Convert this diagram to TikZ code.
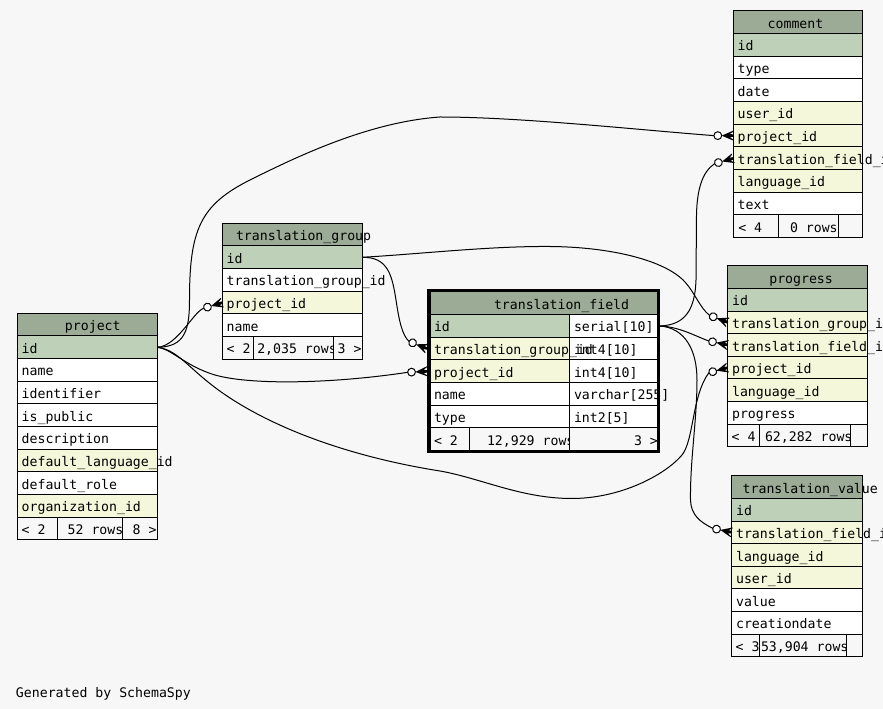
\documentclass[tikz,border=0pt]{standalone}
\usepackage{fontspec}
\setmonofont{DejaVu Sans Mono}
\definecolor{hdr}{HTML}{9BAB96}
\definecolor{pk}{HTML}{BED1B8}
\definecolor{fk}{HTML}{F4F7DA}
\definecolor{bg}{HTML}{F7F7F7}
\tikzset{
  cellbox/.style={draw=black, line width=0.75pt, anchor=north west, inner sep=0pt, outer sep=0pt, rectangle},
  txt/.style={font=\ttfamily\fontsize{9.9}{11}\selectfont, anchor=west, inner sep=0pt, outer sep=0pt, text height=10pt, text depth=1pt},
  conn/.style={draw=black, line width=0.75pt},
  crowodot/.pic={
    \fill[black] (-11.6,0) -- (0,-5) -- (0,-4) -- (-3.5,-1.6) -- (0,-1.2) -- (0,1.2) -- (-3.5,1.6) -- (0,4) -- (0,5) -- cycle;
    \draw[black, line width=0.75pt, fill=white] (-15.5,0) circle[radius=3.9];
    \coordinate (-in) at (-19.4,0);
  }
}
\newcommand\rowh{22.66}
\newcommand\tbl[3]{\def\Tx{#1}\def\Tw{#2}\def\Ty{#3}}
\newcommand\hrow[3]{%
  \node[cellbox, fill=hdr, minimum width=\Tw*0.75pt, minimum height=\rowh*0.75pt] (#1) at (\Tx,\Ty) {};
  \node[txt] (#1-t) at ([xshift=#3*0.75pt]#1.west) {#2};
  \pgfmathsetmacro\Ty{\Ty+\rowh}}
\newcommand\drow[3]{%
  \node[cellbox, fill=#2, minimum width=\Tw*0.75pt, minimum height=\rowh*0.75pt] (#1) at (\Tx,\Ty) {};
  \node[txt] (#1-t) at ([xshift=3.3pt]#1.west) {#3};
  \pgfmathsetmacro\Ty{\Ty+\rowh}}
\newcommand\tfrow[4]{%
  \node[cellbox, fill=#2, minimum width=139*0.75pt, minimum height=\rowh*0.75pt] (#1) at (430,\Ty) {};
  \node[cellbox, fill=white, minimum width=88*0.75pt, minimum height=\rowh*0.75pt] (#1-type) at (569,\Ty) {};
  \node[txt] (#1-t) at ([xshift=3pt]#1.west) {#3};
  \node[txt] (#1-tt) at ([xshift=3.75pt]#1-type.west) {#4};
  \pgfmathsetmacro\Ty{\Ty+\rowh}}
\newcommand\fcell[5]{%
  \node[cellbox, fill=bg, minimum width=#3*0.75pt, minimum height=\rowh*0.75pt] (#1) at (#2,\Ty) {};
  \node[txt] (#1-t) at ([xshift=#4*0.75pt]#1.west) {#5};}
\begin{document}
\begin{tikzpicture}[x=0.75pt,y=-0.75pt]
\useasboundingbox (0,0) rectangle (883,709);
\fill[bg] (0,0) rectangle (883,709);

% project
\tbl{17.3}{140}{313.3}
\hrow{p-h}{project}{47.7}
\drow{p-id}{pk}{id}
\drow{p-name}{white}{name}
\drow{p-ident}{white}{identifier}
\drow{p-pub}{white}{is\_public}
\drow{p-desc}{white}{description}
\drow{p-dlid}{fk}{default\_language\_id}
\drow{p-role}{white}{default\_role}
\drow{p-org}{fk}{organization\_id}
\fcell{p-f1}{17.3}{40}{4.4}{< 2}
\fcell{p-f2}{57.3}{65.4}{10.4}{52 rows}
\fcell{p-f3}{122.7}{34.6}{10}{8 >}

% translation_group
\tbl{222.3}{140}{223.3}
\hrow{tg-h}{translation\_group}{13.7}
\drow{tg-id}{pk}{id}
\drow{tg-tgid}{white}{translation\_group\_id}
\drow{tg-pid}{fk}{project\_id}
\drow{tg-name}{white}{name}
\fcell{tg-f1}{222.3}{31}{4.4}{< 2}
\fcell{tg-f2}{253.3}{80.4}{4}{2,035 rows}
\fcell{tg-f3}{333.7}{28.6}{4}{3 >}

% translation_field
\tbl{430}{227}{292}
\hrow{tf-h}{translation\_field}{64}
\tfrow{tf-id}{pk}{id}{serial[10]}
\tfrow{tf-tgid}{fk}{translation\_group\_id}{int4[10]}
\tfrow{tf-pid}{fk}{project\_id}{int4[10]}
\tfrow{tf-name}{white}{name}{varchar[255]}
\tfrow{tf-type}{white}{type}{int2[5]}
\fcell{tf-f1}{430}{39.3}{4}{< 2}
\fcell{tf-f2}{469.3}{99.7}{17.7}{12,929 rows}
\fcell{tf-f3}{569}{88}{65}{3 >}
\draw[line width=2.25pt] (428.5,290.5) rectangle (658.5,451.5);

% comment
\tbl{733.3}{129.4}{11}
\hrow{c-h}{comment}{34.4}
\drow{c-id}{pk}{id}
\drow{c-type}{white}{type}
\drow{c-date}{white}{date}
\drow{c-uid}{fk}{user\_id}
\drow{c-pid}{fk}{project\_id}
\drow{c-tfid}{fk}{translation\_field\_id}
\drow{c-lid}{fk}{language\_id}
\drow{c-text}{white}{text}
\fcell{c-f1}{733.3}{45.4}{5}{< 4}
\fcell{c-f2}{778.7}{59.3}{11.3}{0 rows}
\fcell{c-f3}{838}{24.7}{0}{}

% progress
\tbl{727.7}{139.6}{265.7}
\hrow{pr-h}{progress}{41.6}
\drow{pr-id}{pk}{id}
\drow{pr-tgid}{fk}{translation\_group\_id}
\drow{pr-tfid}{fk}{translation\_field\_id}
\drow{pr-pid}{fk}{project\_id}
\drow{pr-lid}{fk}{language\_id}
\drow{pr-prog}{white}{progress}
\fcell{pr-f1}{727.7}{31.6}{4}{< 4}
\fcell{pr-f2}{759.3}{90.7}{5.7}{62,282 rows}
\fcell{pr-f3}{850}{17.3}{0}{}

% translation_value
\tbl{731.7}{130.6}{475.7}
\hrow{tv-h}{translation\_value}{11}
\drow{tv-id}{pk}{id}
\drow{tv-tfid}{fk}{translation\_field\_id}
\drow{tv-lid}{fk}{language\_id}
\drow{tv-uid}{fk}{user\_id}
\drow{tv-val}{white}{value}
\drow{tv-cdate}{white}{creationdate}
\fcell{tv-f1}{731.7}{27.6}{4}{< 3}
\fcell{tv-f2}{759.3}{87.4}{1.7}{53,904 rows}
\fcell{tv-f3}{846.7}{15.6}{0}{}

% markers
\pic[rotate=0] (m1) at (c-pid.west) {crowodot};
\pic[rotate=16] (m7) at (c-tfid.west) {crowodot};
\pic[rotate=17] (m2) at (tg-pid.west) {crowodot};
\pic[rotate=-22] (m5) at ([xshift=-2.25pt]tf-tgid.west) {crowodot};
\pic[rotate=3] (m3) at ([xshift=-2.25pt]tf-pid.west) {crowodot};
\pic[rotate=-21] (m6) at (pr-tgid.west) {crowodot};
\pic[rotate=-12] (m8) at (pr-tfid.west) {crowodot};
\pic[rotate=15] (m4) at (pr-pid.west) {crowodot};
\pic[rotate=-12] (m9) at (tv-tfid.west) {crowodot};

% connectors
\draw[conn] (p-id.east) .. controls (185,347) and (189.5,330) .. (189.5,300)
  .. controls (189.5,230) and (200,205) .. (250,180)
  .. controls (300,155) and (370,122) .. (440,117)
  .. controls (520,117) and (640,130) .. (m1-in);
\draw[conn] (p-id.east) .. controls +(20,-1) and +(-10,3) .. (m2-in);
\draw[conn] (p-id.east) .. controls (172,349) and (185,366) .. (215,375)
  .. controls (250,385) and (330,384) .. (m3-in);
\draw[conn] (p-id.east) .. controls (180,350) and (190,372) .. (230,398)
  .. controls (290,437) and (370,460) .. (440,471)
  .. controls (480,478) and (520,498) .. (570,498.5)
  .. controls (620,499) and (665,475) .. (682,455)
  .. controls (694,440) and (692,395) .. (m4-in);
\draw[conn] (tg-id.east) .. controls (388,257) and (392,275) .. (396,300)
  .. controls (399,320) and (402,335) .. (m5-in);
\draw[conn] (tg-id.east) .. controls (420,254) and (490,246) .. (550,246.5)
  .. controls (610,247) and (665,260) .. (685,282)
  .. controls (695,293) and (700,308) .. (m6-in);
\draw[conn] ([xshift=2.25pt]tf-id-type.east) .. controls (685,325) and (695,310) .. (696,280)
  -- (696.5,215) .. controls (697,190) and (702,172) .. (m7-in);
\draw[conn] ([xshift=2.25pt]tf-id-type.east) .. controls (680,327) and (695,336) .. (m8-in);
\draw[conn] ([xshift=2.25pt]tf-id-type.east) .. controls (685,328) and (697,350) .. (697,380)
  .. controls (697,420) and (690,460) .. (690.5,500)
  .. controls (691,515) and (700,522) .. (m9-in);

\node[txt, anchor=base west] (gen) at (16,697.3) {Generated by SchemaSpy};
\end{tikzpicture}
\end{document}
